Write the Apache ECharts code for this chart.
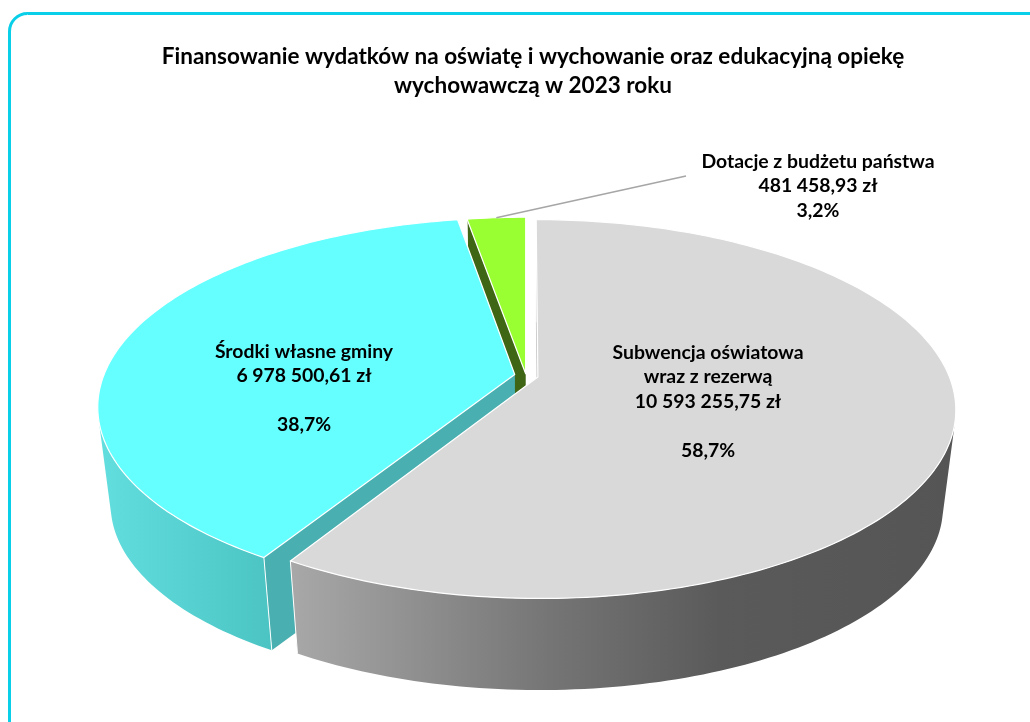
<!DOCTYPE html>
<html>
<head>
<meta charset="utf-8">
<title>Finansowanie wydatków na oświatę</title>
<script src="https://cdn.jsdelivr.net/npm/echarts@6/dist/echarts.min.js"></script>
<style>
html, body { margin: 0; padding: 0; background: #fff; }
#chart { width: 1030px; height: 722px; }
</style>
</head>
<body>
<div id="chart"></div>
<script>
// dane z wykresu
var categories = ['Subwencja oświatowa\nwraz z rezerwą', 'Środki własne gminy', 'Dotacje z budżetu państwa'];
var amounts = [10593255.75, 6978500.61, 481458.93];
var amountLabels = ['10 593 255,75 zł', '6 978 500,61 zł', '481 458,93 zł'];
var percentLabels = ['58,7%', '38,7%', '3,2%'];
var titleText = 'Finansowanie wydatków na oświatę i wychowanie oraz edukacyjną opiekę\nwychowawczą w 2023 roku';

// wyglad plastrow
var explode = [0.03, 0.028, 0.01];
var topColors = ['#d9d9d9', '#66ffff', '#99ff33'];
var cutColors = ['#c4c4c4', '#4aafb0', '#3f6615'];
var rimStops = [
    [[291, '#a8a8a8'], [550, '#757575'], [720, '#5a5a5a'], [955, '#555555']],
    [[100, '#62dede'], [270, '#4cc4c4']],
    [[460, '#3f6615'], [530, '#3f6615']]
];
var labelBox = [[708, 340], [304, 339], [818, 149]];
var drawOrder = [30, 20, 10];

// perspektywa: rzut kola na ekran
var view = {cx: 526, cy: 375.5, a: 411, b: 183.5, k: 0.169, vx: 527, vy: 3650, shrink: 0.97};

var total = amounts.reduce(function (s, v) { return s + v; }, 0);

function project(x, y, lower) {
    var w = 1 + view.k * y;
    var px = view.cx + view.a * x / w;
    var py = view.cy - view.b * y / w;
    if (lower) {
        px = view.vx + (px - view.vx) * view.shrink;
        py = view.vy + (py - view.vy) * view.shrink;
    }
    return [px, py];
}

function sliceAngles(index) {
    var before = 0;
    for (var i = 0; i < index; i++) before += amounts[i];
    return [before / total * 2 * Math.PI, (before + amounts[index]) / total * 2 * Math.PI];
}

function renderSlice(params, api) {
    var i = params.dataIndex;
    var angles = sliceAngles(i);
    var mid = (angles[0] + angles[1]) / 2;
    var ox = explode[i] * Math.sin(mid);
    var oy = explode[i] * Math.cos(mid);
    var z = drawOrder[i];

    var topArc = [], lowArc = [];
    var n = Math.max(4, Math.ceil((angles[1] - angles[0]) / 0.02));
    for (var j = 0; j <= n; j++) {
        var t = angles[0] + (angles[1] - angles[0]) * j / n;
        topArc.push(project(ox + Math.sin(t), oy + Math.cos(t), false));
        lowArc.push(project(ox + Math.sin(t), oy + Math.cos(t), true));
    }
    var apexTop = project(ox, oy, false);
    var apexLow = project(ox, oy, true);
    var first = topArc[0], last = topArc[n];

    // tylko przednia czesc sciany bocznej jest widoczna
    var frontTop = [], frontLow = [];
    for (var m = 0; m < n; m++) {
        var ex = topArc[m + 1][0] - topArc[m][0], ey = topArc[m + 1][1] - topArc[m][1];
        var dx = lowArc[m][0] - topArc[m][0], dy = lowArc[m][1] - topArc[m][1];
        if (ex * dy - ey * dx < 0) {
            if (!frontTop.length) {
                frontTop.push(topArc[m]);
                frontLow.push(lowArc[m]);
            }
            frontTop.push(topArc[m + 1]);
            frontLow.push(lowArc[m + 1]);
        }
    }

    var stops = rimStops[i];
    var x0 = stops[0][0], x1 = stops[stops.length - 1][0];
    var rimFill = new echarts.graphic.LinearGradient(x0, 0, x1, 0, stops.map(function (s) {
        return {offset: (s[0] - x0) / (x1 - x0), color: s[1]};
    }), true);

    var children = [
        // sciany ciecia
        {type: 'polygon', z2: z, shape: {points: [apexTop, first, lowArc[0], apexLow]}, style: {fill: cutColors[i]}},
        {type: 'polygon', z2: z, shape: {points: [apexTop, last, lowArc[n], apexLow]}, style: {fill: cutColors[i]}}
    ];
    if (frontTop.length) {
        children.push({type: 'polygon', z2: z + 1, shape: {points: frontTop.concat(frontLow.reverse())}, style: {fill: rimFill}});
    }
    // krawedzie pionowe i gora plastra
    children.push(
        {type: 'line', z2: z + 2, shape: {x1: first[0], y1: first[1], x2: lowArc[0][0], y2: lowArc[0][1]}, style: {stroke: '#fff', lineWidth: 1}},
        {type: 'line', z2: z + 2, shape: {x1: last[0], y1: last[1], x2: lowArc[n][0], y2: lowArc[n][1]}, style: {stroke: '#fff', lineWidth: 1}},
        {type: 'polygon', z2: z + 3, shape: {points: [apexTop].concat(topArc)}, style: {fill: topColors[i], stroke: '#fff', lineWidth: 1.2, lineJoin: 'round'}}
    );

    var lines = categories[i].split('\n').concat([amountLabels[i]]);
    if (i < 2) lines.push('');
    lines.push(percentLabels[i]);
    children.push({
        type: 'text', z2: 100,
        x: labelBox[i][0], y: labelBox[i][1],
        style: {
            text: lines.join('\n'), fill: '#000', align: 'center', verticalAlign: 'top',
            font: 'bold 19.4px Lato', lineHeight: 24.5
        }
    });

    // linia odniesienia malego plastra
    if (i === 2) {
        var anchor = project(ox + Math.sin(mid), oy + Math.cos(mid), false);
        children.push({
            type: 'polyline', z2: 90,
            shape: {points: [anchor, [686, 176]]},
            style: {stroke: '#a6a6a6', lineWidth: 1.5, fill: 'none'}
        });
    }
    return {type: 'group', children: children};
}

var chart = echarts.init(document.getElementById('chart'));
chart.setOption({
    animation: false,
    backgroundColor: '#fff',
    title: {
        text: titleText,
        left: 528, top: 37, textAlign: 'center',
        textStyle: {fontFamily: 'Lato', fontSize: 22.5, fontWeight: 'bold', color: '#000', lineHeight: 29}
    },
    graphic: [{
        type: 'rect', silent: true, z: -1,
        shape: {x: 9.5, y: 13.5, width: 1040, height: 730, r: 18},
        style: {fill: 'none', stroke: '#0acfe8', lineWidth: 3}
    }],
    series: [{
        type: 'custom',
        coordinateSystem: 'none',
        renderItem: renderSlice,
        data: amounts
    }]
});
</script>
</body>
</html>
